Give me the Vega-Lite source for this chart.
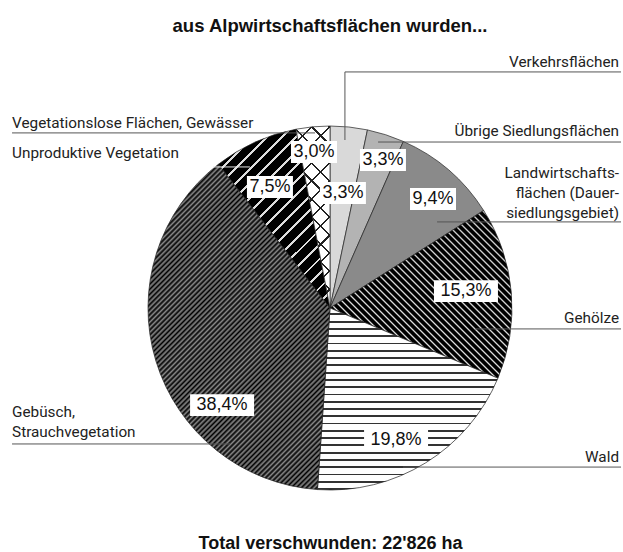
{
"$schema":"https://vega.github.io/schema/vega-lite/v6.json",
"width":364,"height":364,
"autosize":{"type":"none"},
"padding":{"left":148,"top":126,"right":111,"bottom":62},
"background":"#ffffff",
"title":{"text":"aus Alpwirtschaftsflächen wurden...","font":"Liberation Sans","fontSize":18.5,"fontWeight":"bold","color":"#111111","anchor":"middle","offset":20},
"config":{"view":{"stroke":null},"axisX":{"labels":false,"ticks":false,"domain":false,"grid":false,"titleFont":"Liberation Sans","titleFontSize":18,"titleFontWeight":"bold","titleColor":"#111111","titlePadding":44}},
"datasets":{
"slices":[
{"cat":"Verkehrsflächen","share":3.3},
{"cat":"Übrige Siedlungsflächen","share":3.3},
{"cat":"Landwirtschaftsflächen (Dauersiedlungsgebiet)","share":9.4},
{"cat":"Gehölze","share":15.3},
{"cat":"Wald","share":19.8},
{"cat":"Gebüsch, Strauchvegetation","share":38.4},
{"cat":"Unproduktive Vegetation","share":7.5},
{"cat":"Vegetationslose Flächen, Gewässer","share":3.0}
],
"anno":[
{"cat":"Verkehrsflächen","label":"Verkehrsflächen","lx":1.588,"ly":1.349,"px":0.071,"py":0.632},
{"cat":"Übrige Siedlungsflächen","label":"Übrige Siedlungsflächen","lx":1.588,"ly":0.973,"px":0.291,"py":0.813},
{"cat":"Landwirtschaftsflächen (Dauersiedlungsgebiet)","label":"Landwirtschafts-\nflächen (Dauer-\nsiedlungsgebiet)","lx":1.588,"ly":0.742,"px":0.566,"py":0.599},
{"cat":"Gehölze","label":"Gehölze","lx":1.588,"ly":-0.055,"px":0.747,"py":0.093},
{"cat":"Wald","label":"Wald","lx":1.588,"ly":-0.819,"px":0.363,"py":-0.725},
{"cat":"Gebüsch, Strauchvegetation","label":"Gebüsch,\nStrauchvegetation","lx":-1.747,"ly":-0.571,"px":-0.593,"py":-0.533},
{"cat":"Unproduktive Vegetation","label":"Unproduktive Vegetation","lx":-1.747,"ly":0.852,"px":-0.33,"py":0.665},
{"cat":"Vegetationslose Flächen, Gewässer","label":"Vegetationslose Flächen, Gewässer","lx":-1.747,"ly":1.016,"px":-0.088,"py":0.857}
],
"leaders":[
{"cat":"Verkehrsflächen","x":0.082,"y":1.297,"x2":1.599,"y2":1.297},
{"cat":"Verkehrsflächen","x":0.082,"y":1.297,"x2":0.082,"y2":0.923},
{"cat":"Übrige Siedlungsflächen","x":0.264,"y":0.912,"x2":1.599,"y2":0.912},
{"cat":"Landwirtschaftsflächen (Dauersiedlungsgebiet)","x":0.588,"y":0.473,"x2":1.599,"y2":0.473},
{"cat":"Gehölze","x":0.797,"y":-0.115,"x2":1.599,"y2":-0.115},
{"cat":"Wald","x":0.401,"y":-0.874,"x2":1.599,"y2":-0.874},
{"cat":"Gebüsch, Strauchvegetation","x":-1.747,"y":-0.747,"x2":-0.549,"y2":-0.747},
{"cat":"Unproduktive Vegetation","x":-0.643,"y":0.775,"x2":-0.44,"y2":0.775},
{"cat":"Vegetationslose Flächen, Gewässer","x":-1.747,"y":0.962,"x2":-0.082,"y2":0.962}
]
},
"layer":[
{"data":{"name":"slices"},
"transform":[{"stack":"share","groupby":[],"as":["v0","v1"]},{"filter":"indexof(['Verkehrsflächen','Übrige Siedlungsflächen','Landwirtschaftsflächen (Dauersiedlungsgebiet)'], datum.cat) >= 0"}],
"mark":{"type":"arc","stroke":"#222222","strokeWidth":0.7},
"encoding":{"theta":{"field":"v0","type":"quantitative","scale":{"domain":[0,100]}},"theta2":{"field":"v1"},
"color":{"field":"cat","type":"nominal","scale":{"domain":["Verkehrsflächen","Übrige Siedlungsflächen","Landwirtschaftsflächen (Dauersiedlungsgebiet)"],"range":["#d9d9d9","#b3b3b3","#8a8a8a"]},"legend":null}}},
{"data":{"name":"slices"},
"transform":[{"stack":"share","groupby":[],"as":["v0","v1"]},{"filter":"datum.cat === 'Gehölze'"}],
"mark":{"type":"arc","stroke":"#222222","strokeWidth":0.7,"fill":{"gradient":"linear","x1":0,"y1":1,"x2":1.039,"y2":0.042,"stops":[
{"offset":0.01,"color":"#000"},{"offset":0.015,"color":"#ddd"},{"offset":0.02,"color":"#000"},
{"offset":0.03,"color":"#000"},{"offset":0.035,"color":"#ddd"},{"offset":0.04,"color":"#000"},
{"offset":0.05,"color":"#000"},{"offset":0.055,"color":"#ddd"},{"offset":0.06,"color":"#000"},
{"offset":0.07,"color":"#000"},{"offset":0.075,"color":"#ddd"},{"offset":0.08,"color":"#000"},
{"offset":0.09,"color":"#000"},{"offset":0.095,"color":"#ddd"},{"offset":0.1,"color":"#000"},
{"offset":0.11,"color":"#000"},{"offset":0.115,"color":"#ddd"},{"offset":0.12,"color":"#000"},
{"offset":0.13,"color":"#000"},{"offset":0.135,"color":"#ddd"},{"offset":0.14,"color":"#000"},
{"offset":0.15,"color":"#000"},{"offset":0.155,"color":"#ddd"},{"offset":0.16,"color":"#000"},
{"offset":0.17,"color":"#000"},{"offset":0.175,"color":"#ddd"},{"offset":0.18,"color":"#000"},
{"offset":0.19,"color":"#000"},{"offset":0.195,"color":"#ddd"},{"offset":0.2,"color":"#000"},
{"offset":0.21,"color":"#000"},{"offset":0.215,"color":"#ddd"},{"offset":0.22,"color":"#000"},
{"offset":0.23,"color":"#000"},{"offset":0.235,"color":"#ddd"},{"offset":0.24,"color":"#000"},
{"offset":0.25,"color":"#000"},{"offset":0.255,"color":"#ddd"},{"offset":0.26,"color":"#000"},
{"offset":0.27,"color":"#000"},{"offset":0.275,"color":"#ddd"},{"offset":0.28,"color":"#000"},
{"offset":0.29,"color":"#000"},{"offset":0.295,"color":"#ddd"},{"offset":0.3,"color":"#000"},
{"offset":0.31,"color":"#000"},{"offset":0.315,"color":"#ddd"},{"offset":0.32,"color":"#000"},
{"offset":0.33,"color":"#000"},{"offset":0.335,"color":"#ddd"},{"offset":0.34,"color":"#000"},
{"offset":0.35,"color":"#000"},{"offset":0.355,"color":"#ddd"},{"offset":0.36,"color":"#000"},
{"offset":0.37,"color":"#000"},{"offset":0.375,"color":"#ddd"},{"offset":0.38,"color":"#000"},
{"offset":0.39,"color":"#000"},{"offset":0.395,"color":"#ddd"},{"offset":0.4,"color":"#000"},
{"offset":0.41,"color":"#000"},{"offset":0.415,"color":"#ddd"},{"offset":0.42,"color":"#000"},
{"offset":0.43,"color":"#000"},{"offset":0.435,"color":"#ddd"},{"offset":0.44,"color":"#000"},
{"offset":0.45,"color":"#000"},{"offset":0.455,"color":"#ddd"},{"offset":0.46,"color":"#000"},
{"offset":0.47,"color":"#000"},{"offset":0.475,"color":"#ddd"},{"offset":0.48,"color":"#000"},
{"offset":0.49,"color":"#000"},{"offset":0.495,"color":"#ddd"},{"offset":0.5,"color":"#000"},
{"offset":0.51,"color":"#000"},{"offset":0.515,"color":"#ddd"},{"offset":0.52,"color":"#000"},
{"offset":0.53,"color":"#000"},{"offset":0.535,"color":"#ddd"},{"offset":0.54,"color":"#000"},
{"offset":0.55,"color":"#000"},{"offset":0.555,"color":"#ddd"},{"offset":0.56,"color":"#000"},
{"offset":0.57,"color":"#000"},{"offset":0.575,"color":"#ddd"},{"offset":0.58,"color":"#000"},
{"offset":0.59,"color":"#000"},{"offset":0.595,"color":"#ddd"},{"offset":0.6,"color":"#000"},
{"offset":0.61,"color":"#000"},{"offset":0.615,"color":"#ddd"},{"offset":0.62,"color":"#000"},
{"offset":0.63,"color":"#000"},{"offset":0.635,"color":"#ddd"},{"offset":0.64,"color":"#000"},
{"offset":0.65,"color":"#000"},{"offset":0.655,"color":"#ddd"},{"offset":0.66,"color":"#000"},
{"offset":0.67,"color":"#000"},{"offset":0.675,"color":"#ddd"},{"offset":0.68,"color":"#000"},
{"offset":0.69,"color":"#000"},{"offset":0.695,"color":"#ddd"},{"offset":0.7,"color":"#000"},
{"offset":0.71,"color":"#000"},{"offset":0.715,"color":"#ddd"},{"offset":0.72,"color":"#000"},
{"offset":0.73,"color":"#000"},{"offset":0.735,"color":"#ddd"},{"offset":0.74,"color":"#000"},
{"offset":0.75,"color":"#000"},{"offset":0.755,"color":"#ddd"},{"offset":0.76,"color":"#000"},
{"offset":0.77,"color":"#000"},{"offset":0.775,"color":"#ddd"},{"offset":0.78,"color":"#000"},
{"offset":0.79,"color":"#000"},{"offset":0.795,"color":"#ddd"},{"offset":0.8,"color":"#000"},
{"offset":0.81,"color":"#000"},{"offset":0.815,"color":"#ddd"},{"offset":0.82,"color":"#000"},
{"offset":0.83,"color":"#000"},{"offset":0.835,"color":"#ddd"},{"offset":0.84,"color":"#000"},
{"offset":0.85,"color":"#000"},{"offset":0.855,"color":"#ddd"},{"offset":0.86,"color":"#000"},
{"offset":0.87,"color":"#000"},{"offset":0.875,"color":"#ddd"},{"offset":0.88,"color":"#000"},
{"offset":0.89,"color":"#000"},{"offset":0.895,"color":"#ddd"},{"offset":0.9,"color":"#000"},
{"offset":0.91,"color":"#000"},{"offset":0.915,"color":"#ddd"},{"offset":0.92,"color":"#000"},
{"offset":0.93,"color":"#000"},{"offset":0.935,"color":"#ddd"},{"offset":0.94,"color":"#000"},
{"offset":0.95,"color":"#000"},{"offset":0.955,"color":"#ddd"},{"offset":0.96,"color":"#000"},
{"offset":0.97,"color":"#000"},{"offset":0.975,"color":"#ddd"},{"offset":0.98,"color":"#000"},
{"offset":0.99,"color":"#000"},{"offset":0.995,"color":"#ddd"},{"offset":1,"color":"#000"}
]}},
"encoding":{"theta":{"field":"v0","type":"quantitative","scale":{"domain":[0,100]}},"theta2":{"field":"v1"}}},
{"data":{"name":"slices"},
"transform":[{"stack":"share","groupby":[],"as":["v0","v1"]},{"filter":"datum.cat === 'Wald'"}],
"mark":{"type":"arc","stroke":"#222222","strokeWidth":0.7,"fill":{"gradient":"linear","x1":0,"y1":0,"x2":0,"y2":1,"stops":[
{"offset":0.03,"color":"#fff"},{"offset":0.03,"color":"#333"},{"offset":0.04,"color":"#333"},{"offset":0.04,"color":"#fff"},
{"offset":0.07,"color":"#fff"},{"offset":0.07,"color":"#333"},{"offset":0.08,"color":"#333"},{"offset":0.08,"color":"#fff"},
{"offset":0.11,"color":"#fff"},{"offset":0.11,"color":"#333"},{"offset":0.12,"color":"#333"},{"offset":0.12,"color":"#fff"},
{"offset":0.15,"color":"#fff"},{"offset":0.15,"color":"#333"},{"offset":0.16,"color":"#333"},{"offset":0.16,"color":"#fff"},
{"offset":0.19,"color":"#fff"},{"offset":0.19,"color":"#333"},{"offset":0.2,"color":"#333"},{"offset":0.2,"color":"#fff"},
{"offset":0.23,"color":"#fff"},{"offset":0.23,"color":"#333"},{"offset":0.24,"color":"#333"},{"offset":0.24,"color":"#fff"},
{"offset":0.27,"color":"#fff"},{"offset":0.27,"color":"#333"},{"offset":0.28,"color":"#333"},{"offset":0.28,"color":"#fff"},
{"offset":0.31,"color":"#fff"},{"offset":0.31,"color":"#333"},{"offset":0.32,"color":"#333"},{"offset":0.32,"color":"#fff"},
{"offset":0.35,"color":"#fff"},{"offset":0.35,"color":"#333"},{"offset":0.36,"color":"#333"},{"offset":0.36,"color":"#fff"},
{"offset":0.39,"color":"#fff"},{"offset":0.39,"color":"#333"},{"offset":0.4,"color":"#333"},{"offset":0.4,"color":"#fff"},
{"offset":0.43,"color":"#fff"},{"offset":0.43,"color":"#333"},{"offset":0.44,"color":"#333"},{"offset":0.44,"color":"#fff"},
{"offset":0.47,"color":"#fff"},{"offset":0.47,"color":"#333"},{"offset":0.48,"color":"#333"},{"offset":0.48,"color":"#fff"},
{"offset":0.51,"color":"#fff"},{"offset":0.51,"color":"#333"},{"offset":0.52,"color":"#333"},{"offset":0.52,"color":"#fff"},
{"offset":0.55,"color":"#fff"},{"offset":0.55,"color":"#333"},{"offset":0.56,"color":"#333"},{"offset":0.56,"color":"#fff"},
{"offset":0.59,"color":"#fff"},{"offset":0.59,"color":"#333"},{"offset":0.6,"color":"#333"},{"offset":0.6,"color":"#fff"},
{"offset":0.63,"color":"#fff"},{"offset":0.63,"color":"#333"},{"offset":0.64,"color":"#333"},{"offset":0.64,"color":"#fff"},
{"offset":0.67,"color":"#fff"},{"offset":0.67,"color":"#333"},{"offset":0.68,"color":"#333"},{"offset":0.68,"color":"#fff"},
{"offset":0.71,"color":"#fff"},{"offset":0.71,"color":"#333"},{"offset":0.72,"color":"#333"},{"offset":0.72,"color":"#fff"},
{"offset":0.75,"color":"#fff"},{"offset":0.75,"color":"#333"},{"offset":0.76,"color":"#333"},{"offset":0.76,"color":"#fff"},
{"offset":0.79,"color":"#fff"},{"offset":0.79,"color":"#333"},{"offset":0.8,"color":"#333"},{"offset":0.8,"color":"#fff"},
{"offset":0.83,"color":"#fff"},{"offset":0.83,"color":"#333"},{"offset":0.84,"color":"#333"},{"offset":0.84,"color":"#fff"},
{"offset":0.87,"color":"#fff"},{"offset":0.87,"color":"#333"},{"offset":0.88,"color":"#333"},{"offset":0.88,"color":"#fff"},
{"offset":0.91,"color":"#fff"},{"offset":0.91,"color":"#333"},{"offset":0.92,"color":"#333"},{"offset":0.92,"color":"#fff"},
{"offset":0.95,"color":"#fff"},{"offset":0.95,"color":"#333"},{"offset":0.96,"color":"#333"},{"offset":0.96,"color":"#fff"},
{"offset":0.99,"color":"#fff"},{"offset":0.99,"color":"#333"},{"offset":1,"color":"#333"}
]}},
"encoding":{"theta":{"field":"v0","type":"quantitative","scale":{"domain":[0,100]}},"theta2":{"field":"v1"}}},
{"data":{"name":"slices"},
"transform":[{"stack":"share","groupby":[],"as":["v0","v1"]},{"filter":"datum.cat === 'Gebüsch, Strauchvegetation'"}],
"mark":{"type":"arc","stroke":"#222222","strokeWidth":0.7,"fill":{"gradient":"linear","x1":0,"y1":0,"x2":0.664,"y2":1.188,"stops":[
{"offset":0,"color":"#000"},{"offset":0.005,"color":"#888"},{"offset":0.01,"color":"#000"},{"offset":0.015,"color":"#888"},{"offset":0.02,"color":"#000"},{"offset":0.025,"color":"#888"},{"offset":0.03,"color":"#000"},{"offset":0.035,"color":"#888"},{"offset":0.04,"color":"#000"},{"offset":0.045,"color":"#888"},
{"offset":0.05,"color":"#000"},{"offset":0.055,"color":"#888"},{"offset":0.06,"color":"#000"},{"offset":0.065,"color":"#888"},{"offset":0.07,"color":"#000"},{"offset":0.075,"color":"#888"},{"offset":0.08,"color":"#000"},{"offset":0.085,"color":"#888"},{"offset":0.09,"color":"#000"},{"offset":0.095,"color":"#888"},
{"offset":0.1,"color":"#000"},{"offset":0.105,"color":"#888"},{"offset":0.11,"color":"#000"},{"offset":0.115,"color":"#888"},{"offset":0.12,"color":"#000"},{"offset":0.125,"color":"#888"},{"offset":0.13,"color":"#000"},{"offset":0.135,"color":"#888"},{"offset":0.14,"color":"#000"},{"offset":0.145,"color":"#888"},
{"offset":0.15,"color":"#000"},{"offset":0.155,"color":"#888"},{"offset":0.16,"color":"#000"},{"offset":0.165,"color":"#888"},{"offset":0.17,"color":"#000"},{"offset":0.175,"color":"#888"},{"offset":0.18,"color":"#000"},{"offset":0.185,"color":"#888"},{"offset":0.19,"color":"#000"},{"offset":0.195,"color":"#888"},
{"offset":0.2,"color":"#000"},{"offset":0.205,"color":"#888"},{"offset":0.21,"color":"#000"},{"offset":0.215,"color":"#888"},{"offset":0.22,"color":"#000"},{"offset":0.225,"color":"#888"},{"offset":0.23,"color":"#000"},{"offset":0.235,"color":"#888"},{"offset":0.24,"color":"#000"},{"offset":0.245,"color":"#888"},
{"offset":0.25,"color":"#000"},{"offset":0.255,"color":"#888"},{"offset":0.26,"color":"#000"},{"offset":0.265,"color":"#888"},{"offset":0.27,"color":"#000"},{"offset":0.275,"color":"#888"},{"offset":0.28,"color":"#000"},{"offset":0.285,"color":"#888"},{"offset":0.29,"color":"#000"},{"offset":0.295,"color":"#888"},
{"offset":0.3,"color":"#000"},{"offset":0.305,"color":"#888"},{"offset":0.31,"color":"#000"},{"offset":0.315,"color":"#888"},{"offset":0.32,"color":"#000"},{"offset":0.325,"color":"#888"},{"offset":0.33,"color":"#000"},{"offset":0.335,"color":"#888"},{"offset":0.34,"color":"#000"},{"offset":0.345,"color":"#888"},
{"offset":0.35,"color":"#000"},{"offset":0.355,"color":"#888"},{"offset":0.36,"color":"#000"},{"offset":0.365,"color":"#888"},{"offset":0.37,"color":"#000"},{"offset":0.375,"color":"#888"},{"offset":0.38,"color":"#000"},{"offset":0.385,"color":"#888"},{"offset":0.39,"color":"#000"},{"offset":0.395,"color":"#888"},
{"offset":0.4,"color":"#000"},{"offset":0.405,"color":"#888"},{"offset":0.41,"color":"#000"},{"offset":0.415,"color":"#888"},{"offset":0.42,"color":"#000"},{"offset":0.425,"color":"#888"},{"offset":0.43,"color":"#000"},{"offset":0.435,"color":"#888"},{"offset":0.44,"color":"#000"},{"offset":0.445,"color":"#888"},
{"offset":0.45,"color":"#000"},{"offset":0.455,"color":"#888"},{"offset":0.46,"color":"#000"},{"offset":0.465,"color":"#888"},{"offset":0.47,"color":"#000"},{"offset":0.475,"color":"#888"},{"offset":0.48,"color":"#000"},{"offset":0.485,"color":"#888"},{"offset":0.49,"color":"#000"},{"offset":0.495,"color":"#888"},
{"offset":0.5,"color":"#000"},{"offset":0.505,"color":"#888"},{"offset":0.51,"color":"#000"},{"offset":0.515,"color":"#888"},{"offset":0.52,"color":"#000"},{"offset":0.525,"color":"#888"},{"offset":0.53,"color":"#000"},{"offset":0.535,"color":"#888"},{"offset":0.54,"color":"#000"},{"offset":0.545,"color":"#888"},
{"offset":0.55,"color":"#000"},{"offset":0.555,"color":"#888"},{"offset":0.56,"color":"#000"},{"offset":0.565,"color":"#888"},{"offset":0.57,"color":"#000"},{"offset":0.575,"color":"#888"},{"offset":0.58,"color":"#000"},{"offset":0.585,"color":"#888"},{"offset":0.59,"color":"#000"},{"offset":0.595,"color":"#888"},
{"offset":0.6,"color":"#000"},{"offset":0.605,"color":"#888"},{"offset":0.61,"color":"#000"},{"offset":0.615,"color":"#888"},{"offset":0.62,"color":"#000"},{"offset":0.625,"color":"#888"},{"offset":0.63,"color":"#000"},{"offset":0.635,"color":"#888"},{"offset":0.64,"color":"#000"},{"offset":0.645,"color":"#888"},
{"offset":0.65,"color":"#000"},{"offset":0.655,"color":"#888"},{"offset":0.66,"color":"#000"},{"offset":0.665,"color":"#888"},{"offset":0.67,"color":"#000"},{"offset":0.675,"color":"#888"},{"offset":0.68,"color":"#000"},{"offset":0.685,"color":"#888"},{"offset":0.69,"color":"#000"},{"offset":0.695,"color":"#888"},
{"offset":0.7,"color":"#000"},{"offset":0.705,"color":"#888"},{"offset":0.71,"color":"#000"},{"offset":0.715,"color":"#888"},{"offset":0.72,"color":"#000"},{"offset":0.725,"color":"#888"},{"offset":0.73,"color":"#000"},{"offset":0.735,"color":"#888"},{"offset":0.74,"color":"#000"},{"offset":0.745,"color":"#888"},
{"offset":0.75,"color":"#000"},{"offset":0.755,"color":"#888"},{"offset":0.76,"color":"#000"},{"offset":0.765,"color":"#888"},{"offset":0.77,"color":"#000"},{"offset":0.775,"color":"#888"},{"offset":0.78,"color":"#000"},{"offset":0.785,"color":"#888"},{"offset":0.79,"color":"#000"},{"offset":0.795,"color":"#888"},
{"offset":0.8,"color":"#000"},{"offset":0.805,"color":"#888"},{"offset":0.81,"color":"#000"},{"offset":0.815,"color":"#888"},{"offset":0.82,"color":"#000"},{"offset":0.825,"color":"#888"},{"offset":0.83,"color":"#000"},{"offset":0.835,"color":"#888"},{"offset":0.84,"color":"#000"},{"offset":0.845,"color":"#888"},
{"offset":0.85,"color":"#000"},{"offset":0.855,"color":"#888"},{"offset":0.86,"color":"#000"},{"offset":0.865,"color":"#888"},{"offset":0.87,"color":"#000"},{"offset":0.875,"color":"#888"},{"offset":0.88,"color":"#000"},{"offset":0.885,"color":"#888"},{"offset":0.89,"color":"#000"},{"offset":0.895,"color":"#888"},
{"offset":0.9,"color":"#000"},{"offset":0.905,"color":"#888"},{"offset":0.91,"color":"#000"},{"offset":0.915,"color":"#888"},{"offset":0.92,"color":"#000"},{"offset":0.925,"color":"#888"},{"offset":0.93,"color":"#000"},{"offset":0.935,"color":"#888"},{"offset":0.94,"color":"#000"},{"offset":0.945,"color":"#888"},
{"offset":0.95,"color":"#000"},{"offset":0.955,"color":"#888"},{"offset":0.96,"color":"#000"},{"offset":0.965,"color":"#888"},{"offset":0.97,"color":"#000"},{"offset":0.975,"color":"#888"},{"offset":0.98,"color":"#000"},{"offset":0.985,"color":"#888"},{"offset":0.99,"color":"#000"},{"offset":0.995,"color":"#888"},
{"offset":1,"color":"#000"}
]}},
"encoding":{"theta":{"field":"v0","type":"quantitative","scale":{"domain":[0,100]}},"theta2":{"field":"v1"}}},
{"data":{"name":"slices"},
"transform":[{"stack":"share","groupby":[],"as":["v0","v1"]},{"filter":"datum.cat === 'Unproduktive Vegetation'"}],
"mark":{"type":"arc","stroke":"#222222","strokeWidth":0.7,"fill":{"gradient":"linear","x1":0,"y1":0,"x2":0.729,"y2":1.169,"stops":[
{"offset":0.04,"color":"#000"},{"offset":0.04,"color":"#ddd"},{"offset":0.05,"color":"#ddd"},{"offset":0.05,"color":"#000"},
{"offset":0.09,"color":"#000"},{"offset":0.09,"color":"#ddd"},{"offset":0.1,"color":"#ddd"},{"offset":0.1,"color":"#000"},
{"offset":0.14,"color":"#000"},{"offset":0.14,"color":"#ddd"},{"offset":0.15,"color":"#ddd"},{"offset":0.15,"color":"#000"},
{"offset":0.19,"color":"#000"},{"offset":0.19,"color":"#ddd"},{"offset":0.2,"color":"#ddd"},{"offset":0.2,"color":"#000"},
{"offset":0.24,"color":"#000"},{"offset":0.24,"color":"#ddd"},{"offset":0.25,"color":"#ddd"},{"offset":0.25,"color":"#000"},
{"offset":0.29,"color":"#000"},{"offset":0.29,"color":"#ddd"},{"offset":0.3,"color":"#ddd"},{"offset":0.3,"color":"#000"},
{"offset":0.34,"color":"#000"},{"offset":0.34,"color":"#ddd"},{"offset":0.35,"color":"#ddd"},{"offset":0.35,"color":"#000"},
{"offset":0.39,"color":"#000"},{"offset":0.39,"color":"#ddd"},{"offset":0.4,"color":"#ddd"},{"offset":0.4,"color":"#000"},
{"offset":0.44,"color":"#000"},{"offset":0.44,"color":"#ddd"},{"offset":0.45,"color":"#ddd"},{"offset":0.45,"color":"#000"},
{"offset":0.49,"color":"#000"},{"offset":0.49,"color":"#ddd"},{"offset":0.5,"color":"#ddd"},{"offset":0.5,"color":"#000"},
{"offset":0.54,"color":"#000"},{"offset":0.54,"color":"#ddd"},{"offset":0.55,"color":"#ddd"},{"offset":0.55,"color":"#000"},
{"offset":0.59,"color":"#000"},{"offset":0.59,"color":"#ddd"},{"offset":0.6,"color":"#ddd"},{"offset":0.6,"color":"#000"},
{"offset":0.64,"color":"#000"},{"offset":0.64,"color":"#ddd"},{"offset":0.65,"color":"#ddd"},{"offset":0.65,"color":"#000"},
{"offset":0.69,"color":"#000"},{"offset":0.69,"color":"#ddd"},{"offset":0.7,"color":"#ddd"},{"offset":0.7,"color":"#000"},
{"offset":0.74,"color":"#000"},{"offset":0.74,"color":"#ddd"},{"offset":0.75,"color":"#ddd"},{"offset":0.75,"color":"#000"},
{"offset":0.79,"color":"#000"},{"offset":0.79,"color":"#ddd"},{"offset":0.8,"color":"#ddd"},{"offset":0.8,"color":"#000"},
{"offset":0.84,"color":"#000"},{"offset":0.84,"color":"#ddd"},{"offset":0.85,"color":"#ddd"},{"offset":0.85,"color":"#000"},
{"offset":0.89,"color":"#000"},{"offset":0.89,"color":"#ddd"},{"offset":0.9,"color":"#ddd"},{"offset":0.9,"color":"#000"},
{"offset":0.94,"color":"#000"},{"offset":0.94,"color":"#ddd"},{"offset":0.95,"color":"#ddd"},{"offset":0.95,"color":"#000"},
{"offset":0.99,"color":"#000"},{"offset":0.99,"color":"#ddd"},{"offset":1,"color":"#ddd"}
]}},
"encoding":{"theta":{"field":"v0","type":"quantitative","scale":{"domain":[0,100]}},"theta2":{"field":"v1"}}},
{"data":{"name":"slices"},
"transform":[{"stack":"share","groupby":[],"as":["v0","v1"]},{"filter":"datum.cat === 'Vegetationslose Flächen, Gewässer'"}],
"mark":{"type":"arc","stroke":"#222222","strokeWidth":0.7,"fill":{"gradient":"linear","x1":0,"y1":0,"x2":0.215,"y2":1.147,"stops":[
{"offset":0.07,"color":"#fff"},{"offset":0.07,"color":"#222"},{"offset":0.083,"color":"#222"},{"offset":0.083,"color":"#fff"},
{"offset":0.154,"color":"#fff"},{"offset":0.154,"color":"#222"},{"offset":0.167,"color":"#222"},{"offset":0.167,"color":"#fff"},
{"offset":0.237,"color":"#fff"},{"offset":0.237,"color":"#222"},{"offset":0.25,"color":"#222"},{"offset":0.25,"color":"#fff"},
{"offset":0.32,"color":"#fff"},{"offset":0.32,"color":"#222"},{"offset":0.333,"color":"#222"},{"offset":0.333,"color":"#fff"},
{"offset":0.404,"color":"#fff"},{"offset":0.404,"color":"#222"},{"offset":0.417,"color":"#222"},{"offset":0.417,"color":"#fff"},
{"offset":0.487,"color":"#fff"},{"offset":0.487,"color":"#222"},{"offset":0.5,"color":"#222"},{"offset":0.5,"color":"#fff"},
{"offset":0.57,"color":"#fff"},{"offset":0.57,"color":"#222"},{"offset":0.583,"color":"#222"},{"offset":0.583,"color":"#fff"},
{"offset":0.654,"color":"#fff"},{"offset":0.654,"color":"#222"},{"offset":0.667,"color":"#222"},{"offset":0.667,"color":"#fff"},
{"offset":0.737,"color":"#fff"},{"offset":0.737,"color":"#222"},{"offset":0.75,"color":"#222"},{"offset":0.75,"color":"#fff"},
{"offset":0.82,"color":"#fff"},{"offset":0.82,"color":"#222"},{"offset":0.833,"color":"#222"},{"offset":0.833,"color":"#fff"},
{"offset":0.904,"color":"#fff"},{"offset":0.904,"color":"#222"},{"offset":0.917,"color":"#222"},{"offset":0.917,"color":"#fff"},
{"offset":0.987,"color":"#fff"},{"offset":0.987,"color":"#222"},{"offset":1,"color":"#222"}
]}},
"encoding":{"theta":{"field":"v0","type":"quantitative","scale":{"domain":[0,100]}},"theta2":{"field":"v1"}}},
{"data":{"name":"slices"},
"transform":[{"stack":"share","groupby":[],"as":["v0","v1"]},{"filter":"datum.cat === 'Vegetationslose Flächen, Gewässer'"}],
"mark":{"type":"arc","strokeWidth":0,"fill":{"gradient":"linear","x1":0,"y1":1,"x2":0.215,"y2":-0.147,"stops":[
{"offset":0.07,"color":"rgba(0,0,0,0)"},{"offset":0.07,"color":"#222"},{"offset":0.083,"color":"#222"},{"offset":0.083,"color":"rgba(0,0,0,0)"},
{"offset":0.154,"color":"rgba(0,0,0,0)"},{"offset":0.154,"color":"#222"},{"offset":0.167,"color":"#222"},{"offset":0.167,"color":"rgba(0,0,0,0)"},
{"offset":0.237,"color":"rgba(0,0,0,0)"},{"offset":0.237,"color":"#222"},{"offset":0.25,"color":"#222"},{"offset":0.25,"color":"rgba(0,0,0,0)"},
{"offset":0.32,"color":"rgba(0,0,0,0)"},{"offset":0.32,"color":"#222"},{"offset":0.333,"color":"#222"},{"offset":0.333,"color":"rgba(0,0,0,0)"},
{"offset":0.404,"color":"rgba(0,0,0,0)"},{"offset":0.404,"color":"#222"},{"offset":0.417,"color":"#222"},{"offset":0.417,"color":"rgba(0,0,0,0)"},
{"offset":0.487,"color":"rgba(0,0,0,0)"},{"offset":0.487,"color":"#222"},{"offset":0.5,"color":"#222"},{"offset":0.5,"color":"rgba(0,0,0,0)"},
{"offset":0.57,"color":"rgba(0,0,0,0)"},{"offset":0.57,"color":"#222"},{"offset":0.583,"color":"#222"},{"offset":0.583,"color":"rgba(0,0,0,0)"},
{"offset":0.654,"color":"rgba(0,0,0,0)"},{"offset":0.654,"color":"#222"},{"offset":0.667,"color":"#222"},{"offset":0.667,"color":"rgba(0,0,0,0)"},
{"offset":0.737,"color":"rgba(0,0,0,0)"},{"offset":0.737,"color":"#222"},{"offset":0.75,"color":"#222"},{"offset":0.75,"color":"rgba(0,0,0,0)"},
{"offset":0.82,"color":"rgba(0,0,0,0)"},{"offset":0.82,"color":"#222"},{"offset":0.833,"color":"#222"},{"offset":0.833,"color":"rgba(0,0,0,0)"},
{"offset":0.904,"color":"rgba(0,0,0,0)"},{"offset":0.904,"color":"#222"},{"offset":0.917,"color":"#222"},{"offset":0.917,"color":"rgba(0,0,0,0)"},
{"offset":0.987,"color":"rgba(0,0,0,0)"},{"offset":0.987,"color":"#222"},{"offset":1,"color":"#222"}
]}},
"encoding":{"theta":{"field":"v0","type":"quantitative","scale":{"domain":[0,100]}},"theta2":{"field":"v1"}}},
{"data":{"name":"leaders"},
"mark":{"type":"rule","strokeWidth":1},
"encoding":{
"x":{"field":"x","type":"quantitative","scale":{"domain":[-1,1],"nice":false,"zero":false},"title":"Total verschwunden: 22'826 ha"},
"x2":{"field":"x2","title":"Total verschwunden: 22'826 ha"},
"y":{"field":"y","type":"quantitative","scale":{"domain":[-1,1],"nice":false,"zero":false},"axis":null},
"y2":{"field":"y2"},
"color":{"condition":{"test":"datum.cat === 'Unproduktive Vegetation'","value":"#e6e6e6"},"value":"#555555"}}},
{"data":{"name":"anno"},
"transform":[{"lookup":"cat","from":{"data":{"name":"slices"},"key":"cat","fields":["share"]}},{"calculate":"replace(format(datum.share, '.1f'), '.', ',') + '%'","as":"pct"}],
"mark":{"type":"point","filled":true,"opacity":1,"fill":"#ffffff","strokeWidth":0},
"encoding":{
"x":{"field":"px","type":"quantitative","title":"Total verschwunden: 22'826 ha"},
"y":{"field":"py","type":"quantitative","axis":null},
"shape":{"condition":{"test":"length(datum.pct) > 4","value":"M-1,-0.34H1V0.34H-1Z"},"value":"M-1,-0.48H1V0.48H-1Z"},
"size":{"condition":{"test":"length(datum.pct) > 4","value":4096},"value":2116}}},
{"data":{"name":"anno"},
"transform":[{"lookup":"cat","from":{"data":{"name":"slices"},"key":"cat","fields":["share"]}},{"calculate":"replace(format(datum.share, '.1f'), '.', ',') + '%'","as":"pct"}],
"mark":{"type":"text","font":"Liberation Sans","fontSize":18,"color":"#111111","align":"center","baseline":"middle"},
"encoding":{
"x":{"field":"px","type":"quantitative","title":"Total verschwunden: 22'826 ha"},
"y":{"field":"py","type":"quantitative","axis":null},
"text":{"field":"pct"}}},
{"data":{"name":"anno"},
"transform":[{"filter":"datum.lx > 0"}],
"mark":{"type":"text","font":"Roboto","fontSize":15.3,"color":"#222222","align":"right","baseline":"middle","lineBreak":"\n","lineHeight":20},
"encoding":{
"x":{"field":"lx","type":"quantitative","title":"Total verschwunden: 22'826 ha"},
"y":{"field":"ly","type":"quantitative","axis":null},
"text":{"field":"label"}}},
{"data":{"name":"anno"},
"transform":[{"filter":"datum.lx < 0"}],
"mark":{"type":"text","font":"Roboto","fontSize":15.3,"color":"#222222","align":"left","baseline":"middle","lineBreak":"\n","lineHeight":20},
"encoding":{
"x":{"field":"lx","type":"quantitative","title":"Total verschwunden: 22'826 ha"},
"y":{"field":"ly","type":"quantitative","axis":null},
"text":{"field":"label"}}}
]
}
